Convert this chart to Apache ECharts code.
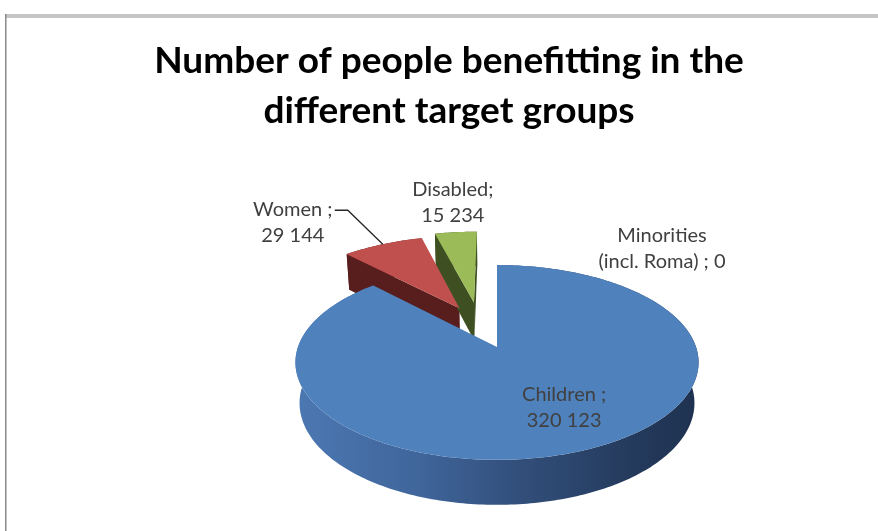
<!DOCTYPE html>
<html>
<head>
<meta charset="utf-8">
<script src="https://cdn.jsdelivr.net/npm/echarts@6/dist/echarts.min.js"></script>
<style>
  html, body { margin: 0; padding: 0; background: #ffffff; }
  #chart { width: 878px; height: 531px; }
</style>
</head>
<body>
<div id="chart"></div>
<script>
// ---- data ----
const categories = ['Children', 'Women', 'Disabled', 'Minorities (incl. Roma)'];
const values = [320123, 29144, 15234, 0];
const labelHeads = ['Children ;\n', 'Women ;\n', 'Disabled;\n', 'Minorities\n(incl. Roma) ; '];

// ---- styling ----
const topColors = ['#4f81bd', '#c0504d', '#9bbb59', '#8064a2'];
const sideColors = ['#2f4c77', '#581e1d', '#3e5022', '#4c3b61'];

// exploded slices: distance in radii, and turn of the push direction off the bisector (deg)
const explode = [
  { dist: 0, turn: 0 },
  { dist: 0.48, turn: 4.6 },
  { dist: 0.52, turn: -6.4 },
  { dist: 0, turn: 0 }
];
// label block centre relative to the rim midpoint of each slice (px)
const labelOffsets = [[-20, -43], [-90, -22], [-3, -30], [165, -16]];
// leader line bends relative to the rim midpoint (px)
const leaders = [null, [[-35, -34], [-48, -34]], null, null];

// 3D view of the disc
const TILT = 28.5 * Math.PI / 180;
const SP = Math.sin(TILT), CP = Math.cos(TILT);
const EYE = 5.53;      // camera distance, in radii
const THICK = 0.235;   // disc thickness, in radii

const total = values.reduce((a, b) => a + b, 0);
const startAngles = [];
(function () {
  let acc = 0;
  values.forEach(v => { startAngles.push(acc / total * 360); acc += v; });
})();

function fmt(v) {
  return String(v).replace(/\B(?=(\d{3})+(?!\d))/g, ' ');
}

function wallFill(i) {
  if (i === 0) {
    return new echarts.graphic.LinearGradient(0, 0, 1, 0, [
      { offset: 0, color: '#4c78b2' },
      { offset: 0.3, color: '#40669c' },
      { offset: 0.55, color: '#324f7b' },
      { offset: 0.8, color: '#263d60' },
      { offset: 1, color: '#1e3150' }
    ]);
  }
  return sideColors[i];
}

function renderItem(params, api) {
  const i = api.value(3);
  const v = api.value(2);
  const a0 = startAngles[i];
  const a1 = a0 + v / total * 360;
  const mid = (a0 + a1) / 2;
  const ex = explode[i];
  const dir = (mid + ex.turn) * Math.PI / 180;
  const ox = ex.dist * Math.sin(dir);
  const oz = ex.dist * Math.cos(dir);

  // perspective projection of a point on the disc (X right, Y up, Z away)
  const P = (X, Y, Z) => {
    const vv = Z * SP + Y * CP;
    const w = Z * CP - Y * SP;
    const s = EYE / (EYE + w);
    return api.coord([X * s, vv * s]);
  };
  const rim = (deg, Y) => {
    const r = deg * Math.PI / 180;
    return P(ox + Math.sin(r), Y, oz + Math.cos(r));
  };

  const base = i === 0 ? 20 : 0;
  const children = [];

  if (v > 0) {
    const n = Math.max(2, Math.ceil(a1 - a0));
    const topArc = [], botArc = [];
    for (let k = 0; k <= n; k++) {
      const d = a0 + (a1 - a0) * k / n;
      topArc.push(rim(d, 0));
      botArc.push(rim(d, -THICK));
    }
    // outer wall
    children.push({
      type: 'polygon',
      shape: { points: topArc.concat(botArc.slice().reverse()) },
      style: { fill: wallFill(i) },
      z2: base + 1
    });
    // radial faces that turn towards the camera
    const cT = P(ox, 0, oz), cB = P(ox, -THICK, oz);
    const camZ = -EYE * CP;
    const faces = (nx, nz) => (-ox) * nx + (camZ - oz) * nz > 1e-6;
    const r0 = a0 * Math.PI / 180, r1 = a1 * Math.PI / 180;
    if (faces(-Math.cos(r0), Math.sin(r0))) {
      children.push({
        type: 'polygon',
        shape: { points: [cT, topArc[0], botArc[0], cB] },
        style: { fill: sideColors[i] },
        z2: base + 2
      });
    }
    if (faces(Math.cos(r1), -Math.sin(r1))) {
      children.push({
        type: 'polygon',
        shape: { points: [cT, topArc[n], botArc[n], cB] },
        style: { fill: sideColors[i] },
        z2: base + 2
      });
    }
    // top face
    children.push({
      type: 'polygon',
      shape: { points: [cT].concat(topArc) },
      style: { fill: topColors[i] },
      z2: base + 3
    });
  }

  // label
  const anchor = rim(mid, 0);
  const off = labelOffsets[i];
  if (leaders[i]) {
    const pts = [anchor].concat(leaders[i].map(p => [anchor[0] + p[0], anchor[1] + p[1]]));
    children.push({
      type: 'polyline',
      shape: { points: pts },
      style: { stroke: '#262626', lineWidth: 1.3, fill: null },
      z2: 50
    });
  }
  children.push({
    type: 'text',
    x: anchor[0] + off[0],
    y: anchor[1] + off[1],
    style: {
      text: labelHeads[i] + fmt(v),
      fill: '#404040',
      fontFamily: 'Lato',
      fontSize: 20,
      lineHeight: 26,
      align: 'center',
      verticalAlign: 'middle'
    },
    z2: 60
  });

  return { type: 'group', children: children };
}

const chart = echarts.init(document.getElementById('chart'), null, { renderer: 'canvas' });

chart.setOption({
  backgroundColor: '#ffffff',
  animation: false,
  graphic: [
    { type: 'rect', shape: { x: 5, y: 14, width: 873, height: 4 }, style: { fill: '#c6c6c6' }, silent: true },
    { type: 'rect', shape: { x: 5, y: 14, width: 1.5, height: 517 }, style: { fill: '#8a8a8a' }, silent: true },
    {
      type: 'text',
      x: 449,
      y: 86,
      style: {
        text: 'Number of people benefitting in the\ndifferent target groups',
        fill: '#000000',
        fontFamily: 'Lato',
        fontWeight: 'bold',
        fontSize: 37,
        lineHeight: 50,
        align: 'center',
        verticalAlign: 'middle'
      }
    }
  ],
  // unit disc centred at x = 0, y = 0; one radius = 199 px both ways
  grid: { left: 298, top: 148, width: 398, height: 378, outerBoundsMode: 'none', containLabel: false },
  xAxis: { type: 'value', min: -1, max: 1, show: false },
  yAxis: { type: 'value', min: -0.9, max: 1, show: false },
  series: [{
    type: 'custom',
    name: 'Target groups',
    coordinateSystem: 'cartesian2d',
    clip: false,
    renderItem: renderItem,
    data: categories.map((c, i) => ({ name: c, value: [0, 0, values[i], i] }))
  }]
});
</script>
</body>
</html>
